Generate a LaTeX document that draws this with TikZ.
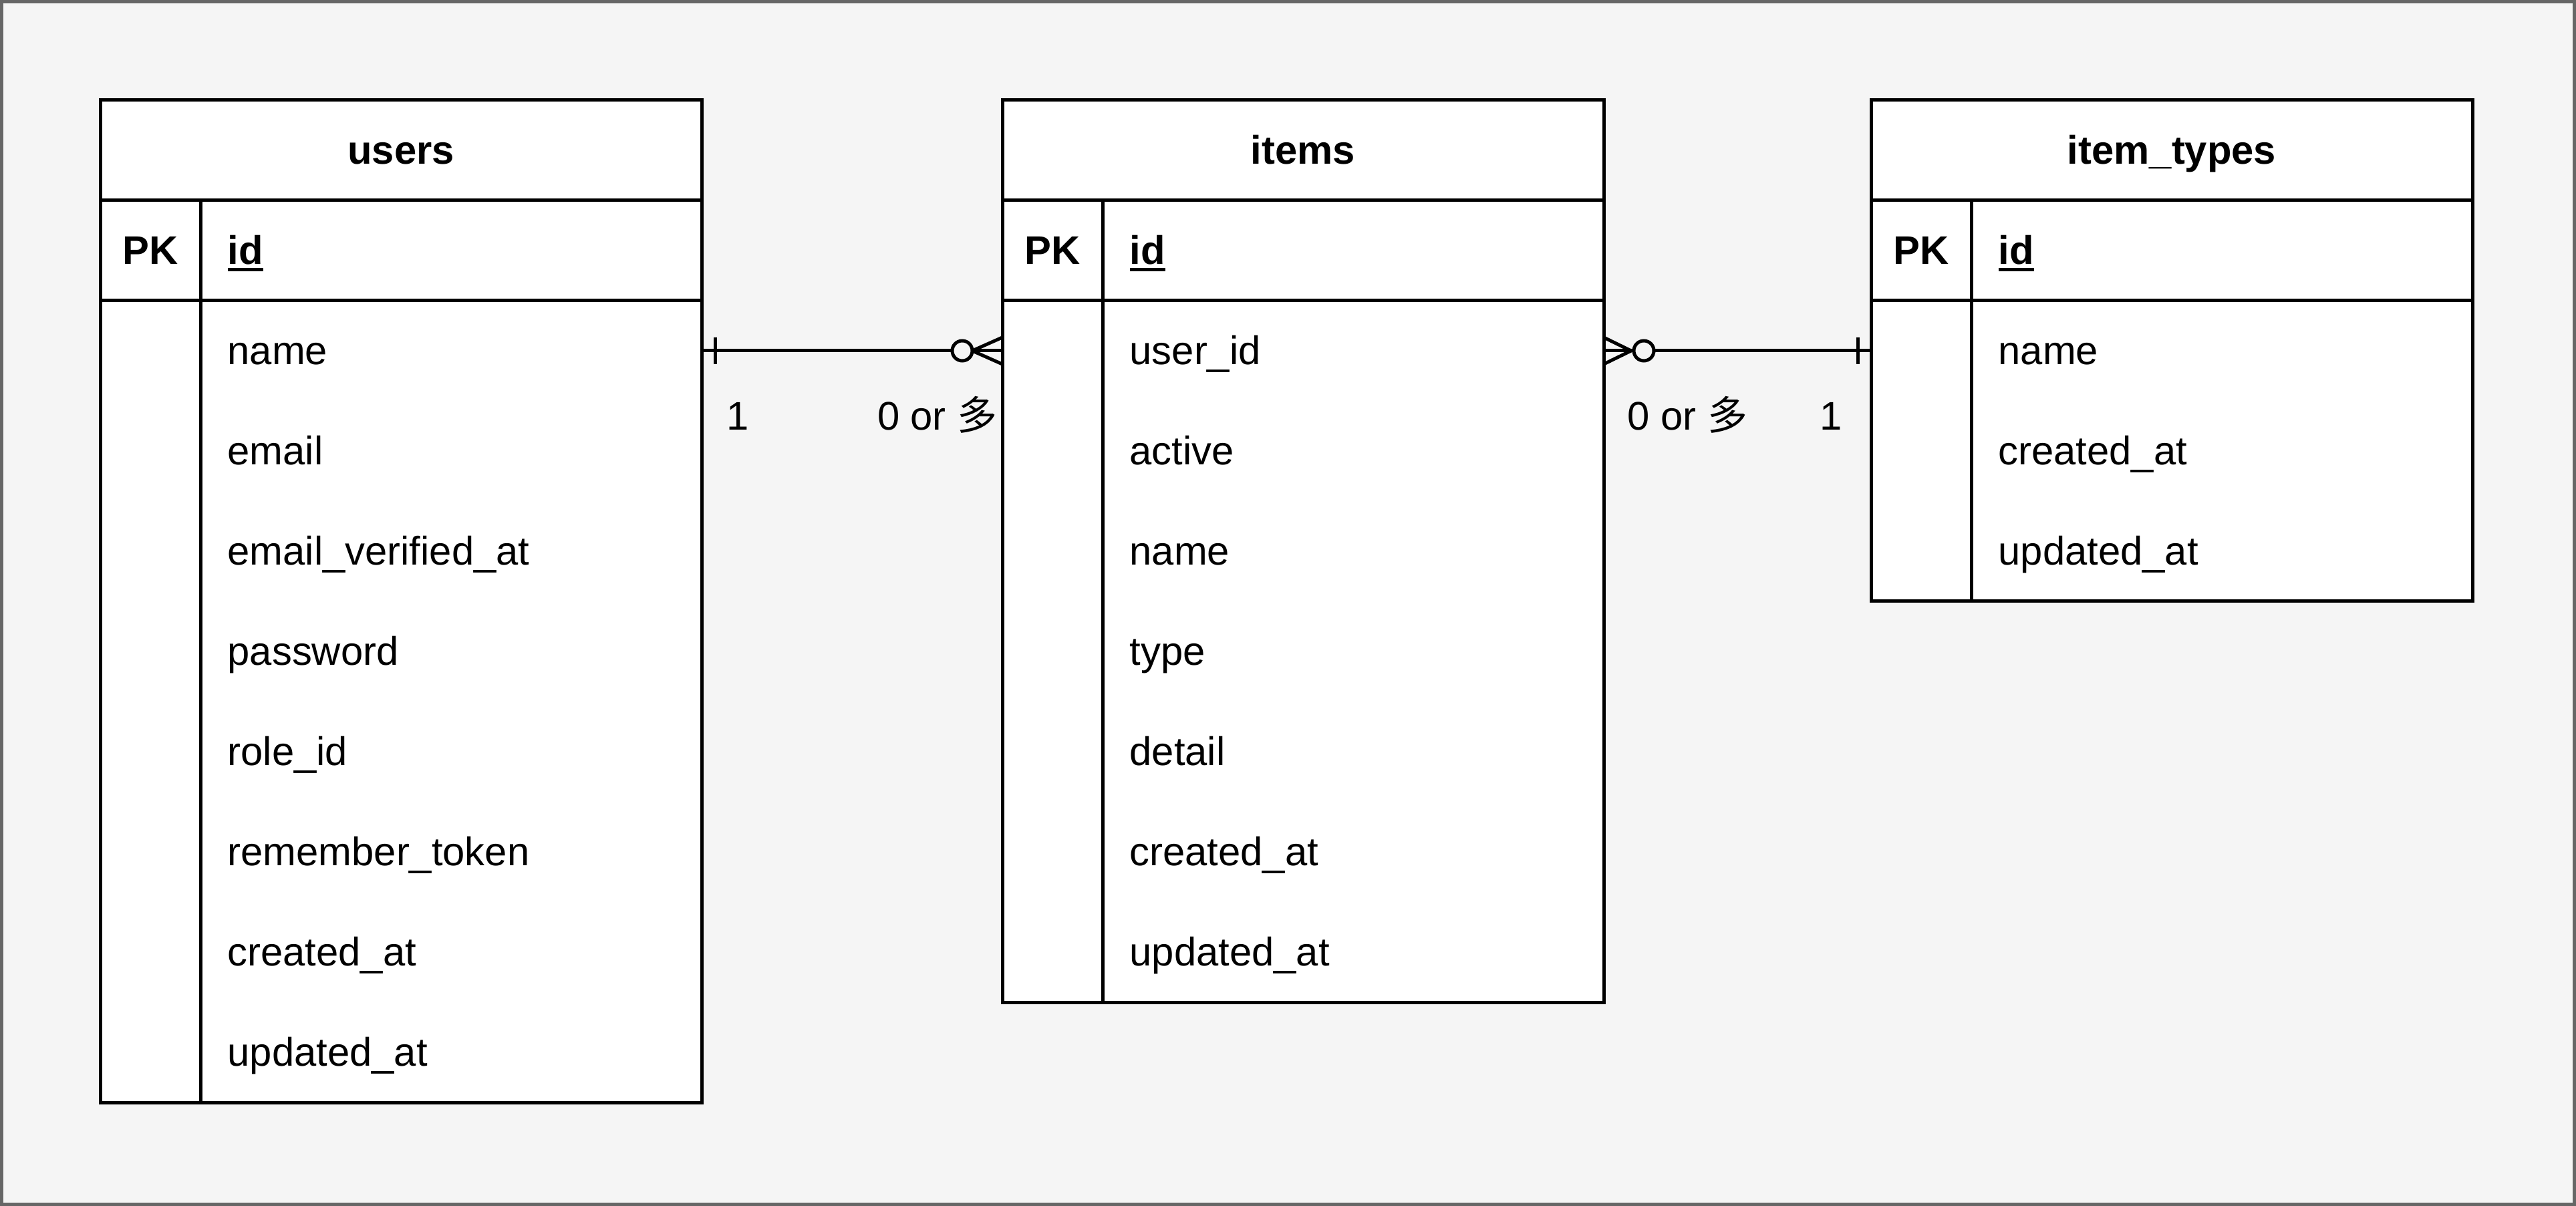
\documentclass[tikz,border=0pt]{standalone}
\usepackage{fontspec}
\setmainfont{Liberation Sans}
\newfontfamily\cjkfont{Noto Sans CJK SC}
\usetikzlibrary{calc,positioning}
\definecolor{canvasFill}{HTML}{F5F5F5}
\definecolor{canvasBorder}{HTML}{666666}
\newcommand{\manyword}{0 or {\cjkfont 多}}
\newcommand{\keyline}[1]{{\setbox0\hbox{#1}\rlap{\rule[-0.1cm]{\wd0}{0.05cm}}\box0}}

\begin{document}
\begin{tikzpicture}[
  font=\fontsize{17}{20}\selectfont,
  label text/.style={text height=15.4pt, text depth=3.6pt},
  cell/.style={
    draw=black,
    fill=white,
    line width=0.05cm,
    outer sep=0pt,
    inner sep=0pt,
    minimum width=9cm,
    minimum height=1.5cm
  },
  tablehead/.style={cell, label text, font=\fontsize{17}{20}\selectfont\bfseries},
  keyrow/.style={cell},
  tablebody/.style={cell},
  keyname/.style={inner sep=0pt, label text, font=\fontsize{17}{20}\selectfont\bfseries},
  fieldname/.style={inner sep=0pt, label text, anchor=west},
  divider/.style={draw=black, line width=0.05cm},
  relation/.style={draw=black, line width=0.05cm},
  cardinal/.style={inner sep=0pt, label text}
]
\useasboundingbox (0,0) rectangle (38.55,-18.05);
\fill[canvasFill] (0,0) rectangle (38.55,-18.05);
\draw[canvasBorder, line width=0.05cm] (0.025,-0.025) rectangle (38.525,-18.025);

\node[tablehead] (users-head) at (6,-2.25) {users};
\node[keyrow, below=0pt of users-head] (users-key) {};
\node[tablebody, minimum height=12cm, below=0pt of users-key] (users-body) {};
\draw[divider] ([xshift=1.5cm]users-key.north west) -- ([xshift=1.5cm]users-body.south west);
\node[keyname] (users-pk) at ([xshift=0.75cm]users-key.west) {PK};
\node[keyname, anchor=west] (users-id) at ([xshift=1.9cm]users-key.west) {\keyline{id}};
\foreach \field [count=\i] in {name,email,email\_verified\_at,password,role\_id,remember\_token,created\_at,updated\_at}
  \node[fieldname] (users-f\i) at ([xshift=1.9cm, yshift=-\i*1.5cm+0.75cm]users-body.north west) {\field};

\node[tablehead] (items-head) at (19.5,-2.25) {items};
\node[keyrow, below=0pt of items-head] (items-key) {};
\node[tablebody, minimum height=10.5cm, below=0pt of items-key] (items-body) {};
\draw[divider] ([xshift=1.5cm]items-key.north west) -- ([xshift=1.5cm]items-body.south west);
\node[keyname] (items-pk) at ([xshift=0.75cm]items-key.west) {PK};
\node[keyname, anchor=west] (items-id) at ([xshift=1.9cm]items-key.west) {\keyline{id}};
\foreach \field [count=\i] in {user\_id,active,name,type,detail,created\_at,updated\_at}
  \node[fieldname] (items-f\i) at ([xshift=1.9cm, yshift=-\i*1.5cm+0.75cm]items-body.north west) {\field};

\node[tablehead] (types-head) at (32.5,-2.25) {item\_types};
\node[keyrow, below=0pt of types-head] (types-key) {};
\node[tablebody, minimum height=4.5cm, below=0pt of types-key] (types-body) {};
\draw[divider] ([xshift=1.5cm]types-key.north west) -- ([xshift=1.5cm]types-body.south west);
\node[keyname] (types-pk) at ([xshift=0.75cm]types-key.west) {PK};
\node[keyname, anchor=west] (types-id) at ([xshift=1.9cm]types-key.west) {\keyline{id}};
\foreach \field [count=\i] in {name,created\_at,updated\_at}
  \node[fieldname] (types-f\i) at ([xshift=1.9cm, yshift=-\i*1.5cm+0.75cm]types-body.north west) {\field};

\draw[relation] (users-f1 -| users-body.east) -- (items-f1 -| items-body.west);
\draw[relation] ($(users-f1 -| users-body.east)+(0.2,0.2)$) -- ++(0,-0.4);
\draw[relation] ($(items-f1 -| items-body.west)+(0,0.2)$) -- ++(-0.45,-0.2) -- ++(0.45,-0.2);
\draw[relation, fill=canvasFill] ($(items-f1 -| items-body.west)+(-0.6,0)$) circle (0.15);
\node[cardinal, anchor=west] (users-one) at ($(users-f1 -| users-body.east)+(0.37,-0.98)$) {1};
\node[cardinal, anchor=east] (items-many) at ($(items-f1 -| items-body.west)+(-0.07,-0.98)$) {\manyword};

\draw[relation] (items-f1 -| items-body.east) -- (types-f1 -| types-body.west);
\draw[relation] ($(items-f1 -| items-body.east)+(0,0.2)$) -- ++(0.41,-0.2) -- ++(-0.41,-0.2);
\draw[relation, fill=canvasFill] ($(items-f1 -| items-body.east)+(0.6,0)$) circle (0.15);
\draw[relation] ($(types-f1 -| types-body.west)+(-0.2,0.2)$) -- ++(0,-0.4);
\node[cardinal, anchor=west] (types-many) at ($(items-f1 -| items-body.east)+(0.35,-0.98)$) {\manyword};
\node[cardinal, anchor=east] (types-one) at ($(types-f1 -| types-body.west)+(-0.43,-0.98)$) {1};

\end{tikzpicture}
\end{document}
